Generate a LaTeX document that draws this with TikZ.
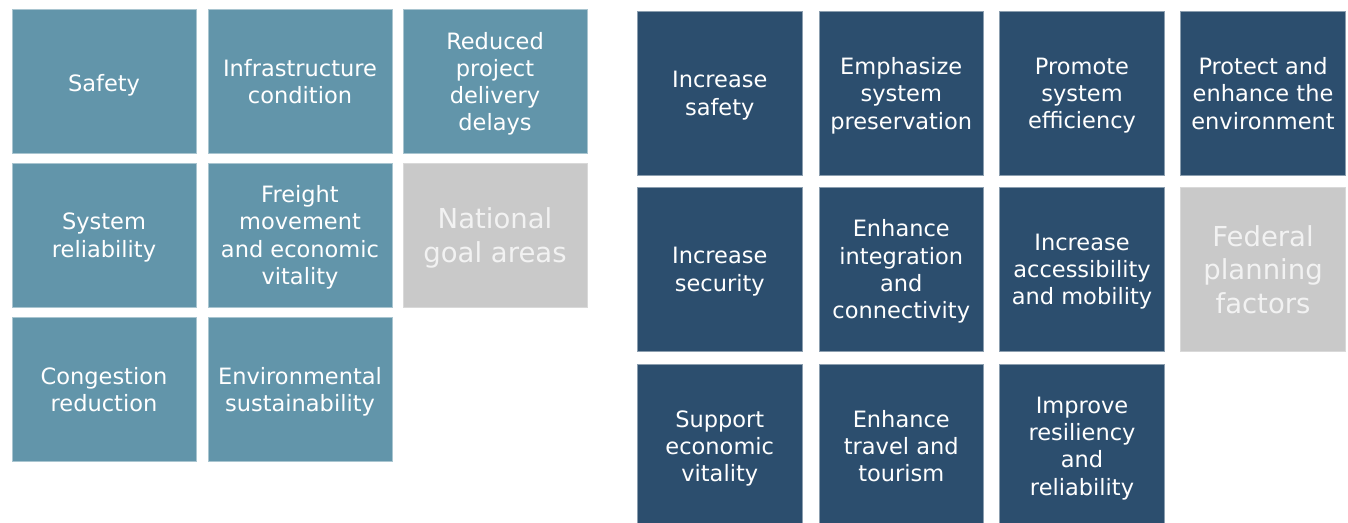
\documentclass[tikz,border=0pt]{standalone}
\usepackage{fontspec}
\setmainfont{DejaVu Sans}
\definecolor{lightblue}{HTML}{6295AA}
\definecolor{darkblue}{HTML}{2C4E6E}
\definecolor{greybox}{HTML}{C9C9C9}
\definecolor{greytext}{HTML}{F2F2F2}
\tikzset{
  basebox/.style={rectangle, inner sep=0pt, outer sep=0pt, align=center, line width=0.9pt, text depth=0pt},
  smalltext/.style={font=\fontsize{22.5}{27.3}\selectfont, execute at begin node={\rule{0pt}{19.5pt}}},
  bigtext/.style={font=\fontsize{27.5}{33.5}\selectfont, execute at begin node={\rule{0pt}{25pt}}},
  lbox/.style={basebox, smalltext, fill=lightblue, draw=lightblue!55!white, minimum width=184pt, minimum height=144pt, text=white},
  rbox/.style={basebox, smalltext, fill=darkblue, draw=darkblue!55!white, minimum width=164.5pt, minimum height=164pt, text=white},
  glbox/.style={basebox, bigtext, fill=greybox, draw=greybox!70!white, minimum width=184pt, minimum height=144pt, text=greytext},
  grbox/.style={basebox, bigtext, fill=greybox, draw=greybox!70!white, minimum width=164.5pt, minimum height=164pt, text=greytext}
}
\begin{document}
\begin{tikzpicture}[x=1pt,y=-1pt]
\useasboundingbox (0,0) rectangle (1348,522);
\begin{scope}
\clip (0,0) rectangle (1348,522);
% left group
\node[lbox] (l11) at (104,81.5) {Safety};
\node[lbox] (l12) at (300,81.5) {Infrastructure\\condition};
\node[lbox] (l13) at (495,81.5) {Reduced\\project\\delivery\\delays};
\node[lbox] (l21) at (104,235) {System\\reliability};
\node[lbox] (l22) at (300,235) {Freight\\movement\\and economic\\vitality};
\node[glbox] (l23) at (495,235) {National\\goal areas};
\node[lbox] (l31) at (104,389.75) {Congestion\\reduction};
\node[lbox] (l32) at (300,389.75) {Environmental\\sustainability};
% right group
\node[rbox] (r11) at (719.75,93.25) {Increase\\safety};
\node[rbox] (r12) at (901.25,93.25) {Emphasize\\system\\preservation};
\node[rbox] (r13) at (1082,93.25) {Promote\\system\\efficiency};
\node[rbox] (r14) at (1263,93.25) {Protect and\\enhance the\\environment};
\node[rbox] (r21) at (719.75,269.25) {Increase\\security};
\node[rbox] (r22) at (901.25,269.25) {Enhance\\integration\\and\\connectivity};
\node[rbox] (r23) at (1082,269.25) {Increase\\accessibility\\and mobility};
\node[grbox] (r24) at (1263,269.25) {Federal\\planning\\factors};
\node[rbox] (r31) at (719.75,446) {Support\\economic\\vitality};
\node[rbox] (r32) at (901.25,446) {Enhance\\travel and\\tourism};
\node[rbox] (r33) at (1082,446) {Improve\\resiliency\\and\\reliability};
\end{scope}
\end{tikzpicture}
\end{document}
